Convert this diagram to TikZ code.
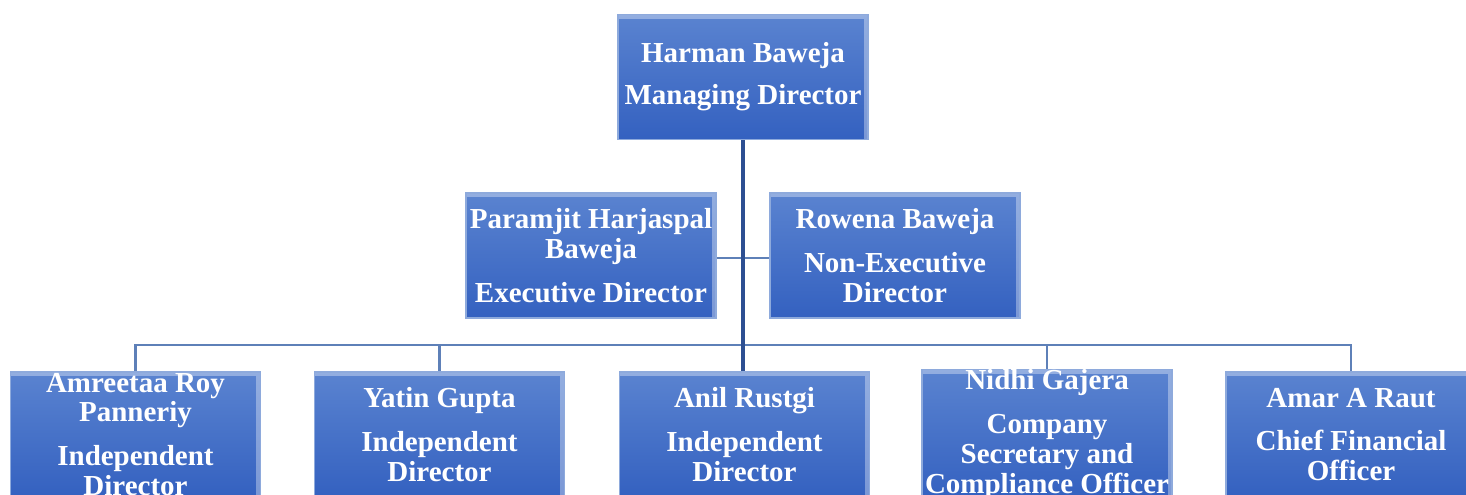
\documentclass[tikz,border=0pt]{standalone}
\usepackage{fontspec}
\setmainfont{Liberation Serif}
\usetikzlibrary{positioning,
	calc}
\definecolor{boxtop}{HTML}{5A83D0}
\definecolor{boxbot}{HTML}{3461C0}
\definecolor{boxedge}{HTML}{8EAADC}
\definecolor{trunkblue}{HTML}{2D4F92}
\definecolor{busblue}{HTML}{5E80B8}
\tikzset{card/.style={rectangle, top color=boxtop, bottom color=boxbot, draw=boxedge, line width=0.8pt,
		minimum width=5cm, minimum height=2.5cm, inner sep=0pt, text=white, align=center,
		font=\fontsize{16.5}{17}\selectfont\bfseries,
		path picture={\draw[white, opacity=0.35, line width=5pt]
			(path picture bounding box.north west) -- (path picture bounding box.north east)
			-- (path picture bounding box.south east);}},
	trunk/.style={draw=trunkblue, line width=2.4pt},
	bus/.style={draw=busblue, line width=1.4pt}}

\begin{document}
\begin{tikzpicture}[x=0.02cm,y=-0.02cm]
\useasboundingbox (0,0) rectangle (1466,494);
\clip (0,0) rectangle (1466,494);

% connectors first, boxes on top
\coordinate (hub) at (743,345);
\coordinate (topfoot) at (743,140);
\coordinate (midfoot) at (743,372);
\coordinate (bL) at (135.5,372);
\coordinate (bLL) at (439.5,372);
\coordinate (bR) at (1047,372);
\coordinate (bRR) at (1351,372);
\foreach \n in {bL,bLL,bR,bRR}{
	\draw[bus] (\n) |- (hub);
}
\draw[bus] (591,258) -- (895,258);
\draw[trunk] (topfoot) -- (midfoot);

% top
\node[card] (md) at (743,77) {Harman Baweja\\[7pt]Managing Director};

% second row
\node[card] (ed) at (591,255.5) {Paramjit Harjaspal\\Baweja\\[8pt]Executive Director};
\node[card] (ned) at (895,255.5) {Rowena Baweja\\[8pt]Non-Executive\\Director};

% bottom row
\node[card] (idA) at (135.5,434.5) {Amreetaa Roy\\Panneriy\\[8pt]Independent\\Director};
\node[card] (idB) at (439.5,434.5) {Yatin Gupta\\[8pt]Independent\\Director};
\node[card] (idC) at (744.5,434.5) {Anil Rustgi\\[8pt]Independent\\Director};
\node[card] (cs) at (1047,434.5) {Nidhi Gajera\\[8pt]Company\\Secretary and\\Compliance Officer};
\node[card] (cfo) at (1351,434.5) {Amar A Raut\\[8pt]Chief Financial\\Officer};
\end{tikzpicture}
\end{document}
